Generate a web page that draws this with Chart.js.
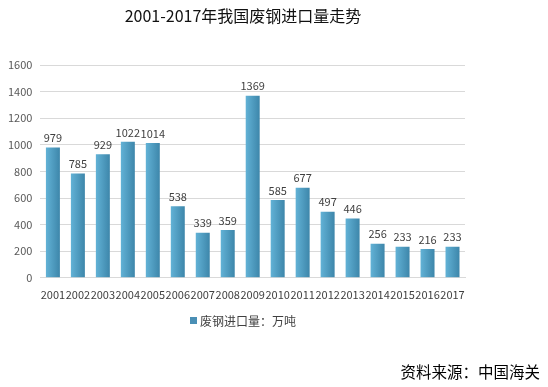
<!DOCTYPE html>
<html>
<head>
<meta charset="utf-8">
<script src="https://cdn.jsdelivr.net/npm/chart.js@4/dist/chart.umd.min.js"></script>
<style>
  html, body { margin: 0; padding: 0; background: #fff; }
  #wrap { width: 548px; height: 387px; position: relative; }
</style>
</head>
<body>
<div id="wrap"><canvas id="scrapChart"></canvas></div>
<script>
const years = ["2001", "2002", "2003", "2004", "2005", "2006", "2007", "2008", "2009",
  "2010", "2011", "2012", "2013", "2014", "2015", "2016", "2017"];
const importVolume = [979, 785, 929, 1022, 1014, 538, 339, 359, 1369,
  585, 677, 497, 446, 256, 233, 216, 233];
const yTicks = [0, 200, 400, 600, 800, 1000, 1200, 1400, 1600];

const titleText = "2001-2017年我国废钢进口量走势";
const seriesLabel = "废钢进口量：万吨";
const sourceText = "资料来源：中国海关";

const cjkFont = "'Noto Sans CJK SC', 'Noto Sans', sans-serif";

const valueLabels = {
  id: "valueLabels",
  afterDatasetsDraw(chart) {
    const ctx = chart.ctx;
    const meta = chart.getDatasetMeta(0);
    ctx.save();
    ctx.font = "11px " + cjkFont;
    ctx.fillStyle = "#404040";
    ctx.textAlign = "center";
    ctx.textBaseline = "bottom";
    meta.data.forEach((bar, i) => {
      ctx.fillText(String(importVolume[i]), bar.x, bar.y - 4);
    });
    ctx.restore();
  }
};

// title, legend and source note are drawn by hand so they can sit off-centre like the original
const extraText = {
  id: "extraText",
  afterDraw(chart) {
    const ctx = chart.ctx;
    ctx.save();

    ctx.font = "16px " + cjkFont;
    ctx.fillStyle = "#111";
    ctx.textAlign = "center";
    ctx.textBaseline = "middle";
    ctx.fillText(titleText, 243, 16);

    ctx.fillStyle = "#4a8fb5";
    ctx.fillRect(190, 317, 7, 7);
    ctx.font = "12px " + cjkFont;
    ctx.fillStyle = "#404040";
    ctx.textAlign = "left";
    ctx.fillText(seriesLabel, 200, 321);

    ctx.font = "15.5px " + cjkFont;
    ctx.fillStyle = "#000";
    ctx.textAlign = "right";
    ctx.fillText(sourceText, 540, 372);
    ctx.restore();
  }
};

function barGradient(context) {
  const chart = context.chart;
  if (!chart.chartArea || context.dataIndex === undefined) {
    return "#4a98bd";
  }
  const x = chart.scales.x.getPixelForValue(context.dataIndex);
  const g = chart.ctx.createLinearGradient(x - 7, 0, x + 7, 0);
  g.addColorStop(0, "#62b2d6");
  g.addColorStop(1, "#3d86aa");
  return g;
}

new Chart(document.getElementById("scrapChart"), {
  type: "bar",
  data: {
    labels: years,
    datasets: [
      {
        label: seriesLabel,
        data: importVolume,
        backgroundColor: barGradient,
        borderWidth: 0,
        categoryPercentage: 1,
        barPercentage: 0.56
      }
    ]
  },
  options: {
    responsive: true,
    maintainAspectRatio: false,
    animation: false,
    layout: {
      padding: { left: 0, right: 83, top: 65, bottom: 84 }
    },
    plugins: {
      title: { display: false },
      legend: { display: false },
      tooltip: { enabled: false }
    },
    scales: {
      x: {
        grid: { display: false },
        border: { color: "#d9d9d9" },
        ticks: {
          color: "#404040",
          font: { family: cjkFont, size: 11 },
          maxRotation: 0,
          autoSkip: false,
          padding: 2
        }
      },
      y: {
        min: 0,
        max: 1600,
        afterBuildTicks(axis) {
          axis.ticks = yTicks.map(v => ({ value: v }));
        },
        grid: { color: "#d9d9d9", drawTicks: false },
        border: { display: false },
        ticks: {
          color: "#595959",
          font: { family: cjkFont, size: 11 },
          padding: 8,
          callback(value) {
            return String(value);
          }
        }
      }
    }
  },
  plugins: [valueLabels, extraText]
});
</script>
</body>
</html>
